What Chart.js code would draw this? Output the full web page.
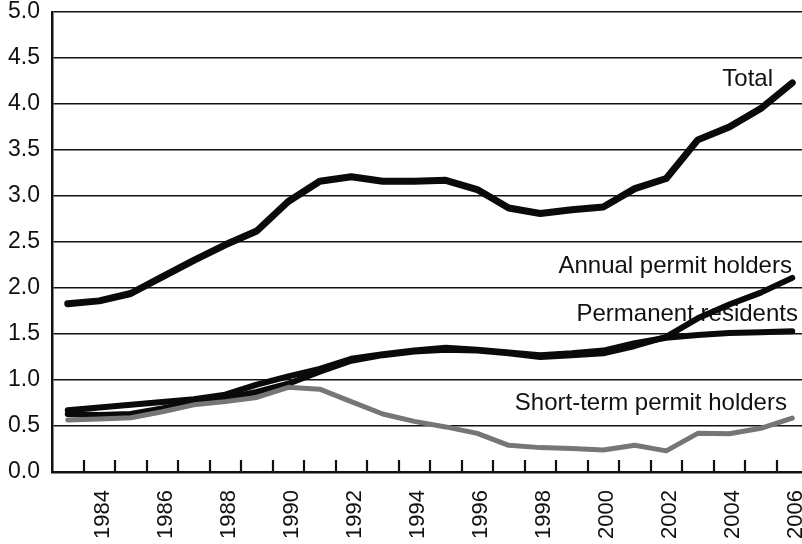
<!DOCTYPE html>
<html>
<head>
<meta charset="utf-8">
<script src="https://cdn.jsdelivr.net/npm/chart.js@4.4.1/dist/chart.umd.min.js"></script>
<style>
  html, body { margin: 0; padding: 0; background: #fff; overflow: hidden; }
  #wrap { width: 802px; height: 544px; overflow: hidden; }
</style>
</head>
<body>
<div id="wrap">
  <canvas id="permitCanvas" width="808" height="544"></canvas>
</div>
<script>
// years on the x axis
var years = ['1983', '1984', '1985', '1986', '1987', '1988', '1989', '1990', '1991', '1992', '1993', '1994',
             '1995', '1996', '1997', '1998', '1999', '2000', '2001', '2002', '2003', '2004', '2005', '2006'];

// series values
var total = [1.83, 1.86, 1.94, 2.12, 2.30, 2.47, 2.62, 2.94, 3.16, 3.21, 3.16, 3.16,
             3.17, 3.07, 2.87, 2.81, 2.85, 2.88, 3.08, 3.19, 3.61, 3.75, 3.95, 4.23];
var permanent = [0.67, 0.70, 0.73, 0.76, 0.79, 0.84, 0.95, 1.04, 1.12, 1.23, 1.28, 1.32,
                 1.35, 1.33, 1.30, 1.27, 1.29, 1.32, 1.40, 1.46, 1.49, 1.51, 1.52, 1.53];
var annual = [0.63, 0.62, 0.63, 0.69, 0.76, 0.80, 0.87, 0.96, 1.09, 1.21, 1.27, 1.31,
              1.33, 1.32, 1.29, 1.25, 1.27, 1.29, 1.37, 1.47, 1.67, 1.82, 1.95, 2.11];
var shortTerm = [0.565, 0.575, 0.59, 0.655, 0.73, 0.765, 0.81, 0.92, 0.90, 0.765, 0.63, 0.55,
                 0.49, 0.42, 0.29, 0.265, 0.255, 0.24, 0.29, 0.23, 0.42, 0.415, 0.475, 0.585];

// y tick labels
var yTicks = ['0.0', '0.5', '1.0', '1.5', '2.0', '2.5', '3.0', '3.5', '4.0', '4.5', '5.0'];

// series names written on the chart
var seriesNames = ['Total', 'Annual permit holders', 'Permanent residents', 'Short-term permit holders'];

var INK = '#111111';
var FONT = '"Liberation Sans", Arial, sans-serif';

// where each series name sits: x as category index, y as data value (right aligned, baseline)
var nameSpots = [
    { x: 22.39, y: 4.20 },
    { x: 22.99, y: 2.16 },
    { x: 23.18, y: 1.64 },
    { x: 22.83, y: 0.67 }
];

function lineSet(label, data, color, width) {
    return {
        label: label,
        data: data,
        borderColor: color,
        backgroundColor: color,
        borderWidth: width,
        borderCapStyle: 'round',
        borderJoinStyle: 'round',
        pointRadius: 0,
        pointHoverRadius: 0,
        tension: 0,
        fill: false
    };
}

// small tick marks pointing up into the plot, between years
var insideTicks = {
    id: 'insideTicks',
    afterDatasetsDraw: function(chart) {
        var xs = chart.scales.x;
        var ctx = chart.ctx;
        var bottom = chart.chartArea.bottom;
        ctx.save();
        ctx.strokeStyle = INK;
        ctx.lineWidth = 2.2;
        for (var i = 1; i < years.length; i++) {
            var px = Math.round(xs.getPixelForValue(i - 0.5));
            ctx.beginPath();
            ctx.moveTo(px, bottom);
            ctx.lineTo(px, bottom - 12);
            ctx.stroke();
        }
        ctx.restore();
    }
};

// series names, drawn under the lines
var seriesLabels = {
    id: 'seriesLabels',
    beforeDatasetsDraw: function(chart) {
        var xs = chart.scales.x, ys = chart.scales.y;
        var ctx = chart.ctx;
        ctx.save();
        ctx.fillStyle = INK;
        ctx.font = '24px ' + FONT;
        ctx.textAlign = 'right';
        ctx.textBaseline = 'alphabetic';
        for (var i = 0; i < seriesNames.length; i++) {
            var spot = nameSpots[i];
            ctx.fillText(seriesNames[i], xs.getPixelForValue(spot.x), ys.getPixelForValue(spot.y));
        }
        ctx.restore();
    }
};

var ctx = document.getElementById('permitCanvas');

var myChart = new Chart(ctx, {
    type: 'line',
    data: {
        labels: years,
        datasets: [
            lineSet(seriesNames[3], shortTerm, '#767676', 5),
            lineSet(seriesNames[2], permanent, '#0a0a0a', 6),
            lineSet(seriesNames[1], annual, '#0a0a0a', 6),
            lineSet(seriesNames[0], total, '#0a0a0a', 7)
        ]
    },
    options: {
        responsive: false,
        animation: false,
        devicePixelRatio: 1,
        layout: { padding: { top: 12, left: 0, right: 0, bottom: 0 } },
        plugins: {
            legend: { display: false },
            tooltip: { enabled: false },
            title: { display: false }
        },
        scales: {
            x: {
                type: 'category',
                offset: true,
                grid: { display: false, drawTicks: false },
                border: { display: true, color: INK, width: 2.5 },
                ticks: {
                    autoSkip: false,
                    minRotation: 90,
                    maxRotation: 90,
                    padding: 18,
                    labelOffset: 3.5,
                    color: INK,
                    font: { family: FONT, size: 22 },
                    callback: function(value, index) {
                        var yr = years[index];
                        return parseInt(yr, 10) % 2 === 0 ? yr : '';
                    }
                },
                afterFit: function(scale) {
                    scale.height = 72;
                    scale.paddingLeft = 0;
                    scale.paddingRight = 0;
                }
            },
            y: {
                min: 0,
                max: 5,
                grid: { color: INK, lineWidth: 1.6, drawTicks: false },
                border: { display: true, color: INK, width: 2.5 },
                ticks: {
                    stepSize: 0.5,
                    padding: 12,
                    color: INK,
                    font: { family: FONT, size: 23 },
                    callback: function(value) {
                        return yTicks[Math.round(value * 2)];
                    }
                },
                afterFit: function(scale) {
                    scale.width = 52;
                    scale.paddingTop = 0;
                    scale.paddingBottom = 0;
                }
            }
        }
    },
    plugins: [seriesLabels, insideTicks]
});
</script>
</body>
</html>
